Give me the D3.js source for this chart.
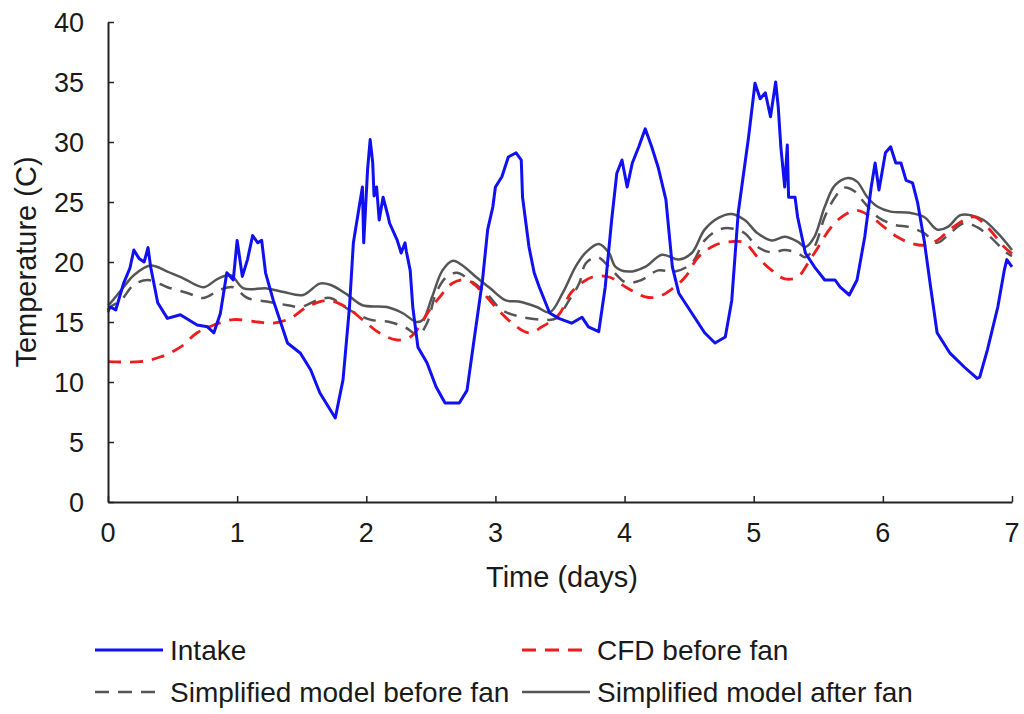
<!DOCTYPE html>
<html>
<head>
<meta charset="utf-8">
<script src="https://cdn.jsdelivr.net/npm/d3@7"></script>
<style>
  body { margin: 0; background: #fff; }
  text { font-family: "Liberation Sans", Arial, sans-serif; fill: #1a1a1a; }
</style>
</head>
<body>
<div id="my_dataviz"></div>
<script>
const dayTicks = [0, 1, 2, 3, 4, 5, 6, 7];
const tempTicks = [0, 5, 10, 15, 20, 25, 30, 35, 40];

// measured intake air (noisy)
const intakeDays = [0.0,0.02,0.06,0.12,0.17,0.2,0.24,0.28,0.31,0.33,0.385,0.46,0.56,0.69,0.77,0.82,0.87,0.92,0.97,1.0,
  1.04,1.08,1.12,1.16,1.19,1.22,1.28,1.39,1.49,1.57,1.64,1.76,1.82,1.87,1.9,1.97,1.98,2.01,2.03,2.05,
  2.06,2.08,2.1,2.13,2.17,2.18,2.24,2.27,2.3,2.31,2.34,2.36,2.4,2.47,2.54,2.61,2.72,2.78,2.82,2.9,2.94,2.98,3.0,
  3.05,3.1,3.16,3.2,3.21,3.26,3.3,3.34,3.42,3.49,3.59,3.67,3.72,3.8,3.85,3.9,3.94,3.98,4.02,4.06,
  4.11,4.16,4.21,4.26,4.32,4.37,4.42,4.52,4.62,4.7,4.78,4.83,4.88,4.96,5.01,5.05,5.09,5.13,5.17,5.19,
  5.21,5.24,5.26,5.27,5.32,5.34,5.4,5.47,5.55,5.63,5.67,5.74,5.8,5.86,5.91,5.94,5.97,6.02,6.06,6.1,
  6.14,6.18,6.23,6.27,6.32,6.37,6.42,6.52,6.63,6.73,6.75,6.81,6.89,6.94,6.96,7.0];
const intakeTemp = [16.0,16.25,16.0,18.2,19.5,21.0,20.3,20.0,21.2,19.6,16.6,15.3,15.6,14.75,14.6,14.1,15.7,19.1,18.5,21.8,
  18.8,20.2,22.2,21.6,21.8,19.1,16.8,13.25,12.4,11.0,9.1,7.0,10.2,16.25,21.6,26.25,21.6,27.7,30.2,28.25,
  25.5,26.25,23.5,25.4,23.75,23.25,21.8,20.75,21.6,20.9,19.3,16.25,12.9,11.6,9.6,8.25,8.25,9.3,12.4,18.5,22.7,24.6,26.25,
  27.1,28.75,29.1,28.5,25.4,21.25,19.1,17.9,15.75,15.3,14.9,15.4,14.6,14.2,17.9,23.5,27.4,28.5,26.25,28.25,
  29.6,31.1,29.6,27.9,25.2,19.6,17.4,15.75,14.1,13.25,13.75,16.8,24.1,30.4,34.9,33.6,34.1,32.1,35.0,32.9,
  29.6,26.25,29.75,25.4,25.4,23.75,20.75,19.6,18.5,18.5,17.9,17.25,18.5,22.1,26.25,28.25,26.0,29.1,29.6,28.25,
  28.25,26.8,26.6,24.9,21.8,17.9,14.1,12.4,11.25,10.3,10.4,12.7,16.25,19.3,20.2,19.6];

// CFD before fan
const cfdDays = [0.0,0.25,0.41,0.56,0.69,0.82,0.97,1.16,1.28,1.41,1.54,1.7,1.85,1.97,2.1,2.24,2.34,2.41,2.49,2.57,
  2.67,2.78,2.88,3.0,3.13,3.26,3.36,3.49,3.59,3.75,3.88,4.01,4.16,4.26,4.36,4.47,4.57,4.7,4.83,4.93,
  5.03,5.14,5.24,5.34,5.42,5.5,5.6,5.7,5.8,5.91,6.01,6.11,6.21,6.32,6.42,6.52,6.63,6.71,6.81,6.94,7.0];
const cfdTemp = [11.7,11.7,12.1,12.9,14.1,14.75,15.2,15.0,14.9,15.3,16.25,16.8,16.2,15.2,14.1,13.5,13.75,14.6,16.0,17.1,
  18.25,18.5,17.7,16.25,14.9,14.1,14.6,15.6,17.5,18.75,18.75,17.9,17.1,17.1,17.7,18.75,20.4,21.4,21.7,21.6,
  20.4,19.3,18.6,18.75,19.9,21.25,22.9,23.9,24.3,23.75,22.9,22.1,21.6,21.4,21.8,22.7,23.5,23.75,22.9,21.25,20.7];

// simplified model before fan
const simBeforeDays = [0.0,0.02,0.1,0.2,0.31,0.46,0.62,0.74,0.87,0.97,1.08,1.23,1.39,1.49,1.62,1.72,1.87,2.03,2.18,2.31,
  2.4,2.47,2.54,2.62,2.7,2.8,2.93,3.05,3.21,3.36,3.47,3.57,3.65,3.7,3.79,3.88,4.01,4.13,4.26,4.39,
  4.52,4.62,4.73,4.83,4.93,5.03,5.14,5.24,5.34,5.4,5.47,5.55,5.63,5.7,5.78,5.86,5.96,6.09,6.21,6.32,
  6.42,6.52,6.63,6.73,6.83,6.96,7.0];
const simBeforeTemp = [15.8,16.25,16.8,18.1,18.5,17.9,17.4,17.0,17.7,17.9,17.0,16.7,16.4,16.25,16.8,17.0,16.0,15.2,15.0,14.5,
  13.9,14.9,17.4,18.75,19.1,18.5,17.4,16.0,15.4,15.2,15.3,16.8,18.25,19.9,20.4,19.6,18.3,18.5,19.3,19.2,
  19.9,21.8,22.7,22.8,22.4,21.25,20.8,21.0,20.75,20.4,21.25,23.75,25.4,26.2,25.9,24.9,23.75,23.1,22.9,22.4,
  21.6,22.4,23.25,22.9,22.1,20.75,20.5];

// simplified model after fan
const simAfterDays = [0.0,0.02,0.12,0.2,0.33,0.46,0.59,0.74,0.85,0.95,1.05,1.23,1.36,1.51,1.64,1.72,1.85,1.97,2.16,2.28,
  2.39,2.44,2.51,2.59,2.67,2.74,2.85,2.95,3.08,3.18,3.32,3.42,3.52,3.62,3.7,3.8,3.88,3.93,4.03,4.16,
  4.29,4.42,4.52,4.62,4.73,4.83,4.93,5.03,5.14,5.24,5.34,5.4,5.47,5.55,5.63,5.73,5.8,5.88,5.96,6.06,
  6.21,6.32,6.42,6.5,6.6,6.68,6.78,6.89,7.0];
const simAfterTemp = [16.4,16.6,17.9,18.9,19.7,19.2,18.6,17.9,18.6,18.9,17.8,17.8,17.5,17.25,18.2,18.1,17.3,16.4,16.25,15.75,
  15.0,15.2,17.1,19.3,20.1,19.75,18.75,17.9,16.8,16.7,16.25,15.8,17.4,19.6,20.8,21.5,20.75,19.6,19.2,19.6,
  20.6,20.2,20.75,22.7,23.7,24.0,23.5,22.4,21.8,22.1,21.7,21.25,22.1,24.6,26.4,27.0,26.7,25.4,24.6,24.2,
  24.1,23.75,22.7,22.9,23.9,23.9,23.5,22.4,21.0];

const seriesNames = ["Intake", "CFD before fan", "Simplified model before fan", "Simplified model after fan"];

var width = 1024, height = 714;
var margin = {top: 22, right: 12, bottom: 212, left: 108};

var svg = d3.select("#my_dataviz").append("svg")
  .attr("width", width)
  .attr("height", height);

var x = d3.scaleLinear().domain([0, 7]).range([margin.left, width - margin.right]);
var y = d3.scaleLinear().domain([0, 40]).range([height - margin.bottom, margin.top]);

function zip(xs, ys) { return xs.map(function(d, i) { return {d: d, t: ys[i]}; }); }

var series = [
  {name: seriesNames[0], data: zip(intakeDays, intakeTemp), color: "#1010f0", width: 3, dash: null, curve: d3.curveLinear},
  {name: seriesNames[1], data: zip(cfdDays, cfdTemp), color: "#ee1c1c", width: 2.8, dash: "13,9", curve: d3.curveCatmullRom},
  {name: seriesNames[2], data: zip(simBeforeDays, simBeforeTemp), color: "#555555", width: 2.5, dash: "13,9", curve: d3.curveCatmullRom},
  {name: seriesNames[3], data: zip(simAfterDays, simAfterTemp), color: "#555555", width: 2.5, dash: null, curve: d3.curveCatmullRom}
];

// lines, draw order: model lines under the intake
[3, 2, 1, 0].forEach(function(k) {
  var s = series[k];
  var line = d3.line().curve(s.curve)
    .x(function(d) { return x(d.d); })
    .y(function(d) { return y(d.t); });
  svg.append("path")
    .attr("fill", "none")
    .attr("stroke", s.color)
    .attr("stroke-width", s.width)
    .attr("stroke-dasharray", s.dash)
    .attr("stroke-linejoin", "round")
    .attr("d", line(s.data));
});

// axes with inward ticks
var xAxis = svg.append("g")
  .attr("transform", "translate(0," + y(0) + ")")
  .call(d3.axisTop(x).tickValues(dayTicks).tickSize(6).tickSizeOuter(0).tickFormat(""));
var yAxis = svg.append("g")
  .attr("transform", "translate(" + x(0) + ",0)")
  .call(d3.axisRight(y).tickValues(tempTicks).tickSize(6).tickSizeOuter(0).tickFormat(""));
[xAxis, yAxis].forEach(function(a) {
  a.select(".domain").attr("stroke", "#222").attr("stroke-width", 2);
  a.selectAll(".tick line").attr("stroke", "#222").attr("stroke-width", 1.5);
});

svg.selectAll(".xlab")
  .data(dayTicks)
  .enter()
  .append("text")
  .attr("x", function(d) { return x(d); })
  .attr("y", y(0) + 40)
  .attr("text-anchor", "middle")
  .style("font-size", "27px")
  .text(function(d) { return d; });

svg.selectAll(".ylab")
  .data(tempTicks)
  .enter()
  .append("text")
  .attr("x", x(0) - 24)
  .attr("y", function(d) { return y(d) + 10; })
  .attr("text-anchor", "end")
  .style("font-size", "27px")
  .text(function(d) { return d; });

// axis titles
svg.append("text")
  .attr("x", (x(0) + x(7)) / 2 + 2)
  .attr("y", 587)
  .attr("text-anchor", "middle")
  .style("font-size", "29px")
  .text("Time (days)");

svg.append("text")
  .attr("transform", "translate(36," + (y(20)) + ") rotate(-90)")
  .attr("text-anchor", "middle")
  .style("font-size", "29px")
  .text("Temperature (C)");

// legend, two rows of two
var legendPos = [[95, 650], [522, 650], [95, 692], [522, 692]];
var legend = svg.selectAll(".legend")
  .data(series)
  .enter()
  .append("g")
  .attr("class", "legend")
  .attr("transform", function(d, i) { return "translate(" + legendPos[i][0] + "," + legendPos[i][1] + ")"; });

legend.append("line")
  .attr("x1", 0).attr("x2", 68)
  .attr("y1", 0).attr("y2", 0)
  .attr("stroke", function(d) { return d.color; })
  .attr("stroke-width", function(d) { return d.width; })
  .attr("stroke-dasharray", function(d) { return d.dash ? "14,9" : null; });

legend.append("text")
  .attr("x", 75)
  .attr("y", 10)
  .style("font-size", "28px")
  .text(function(d) { return d.name; });
</script>
</body>
</html>
